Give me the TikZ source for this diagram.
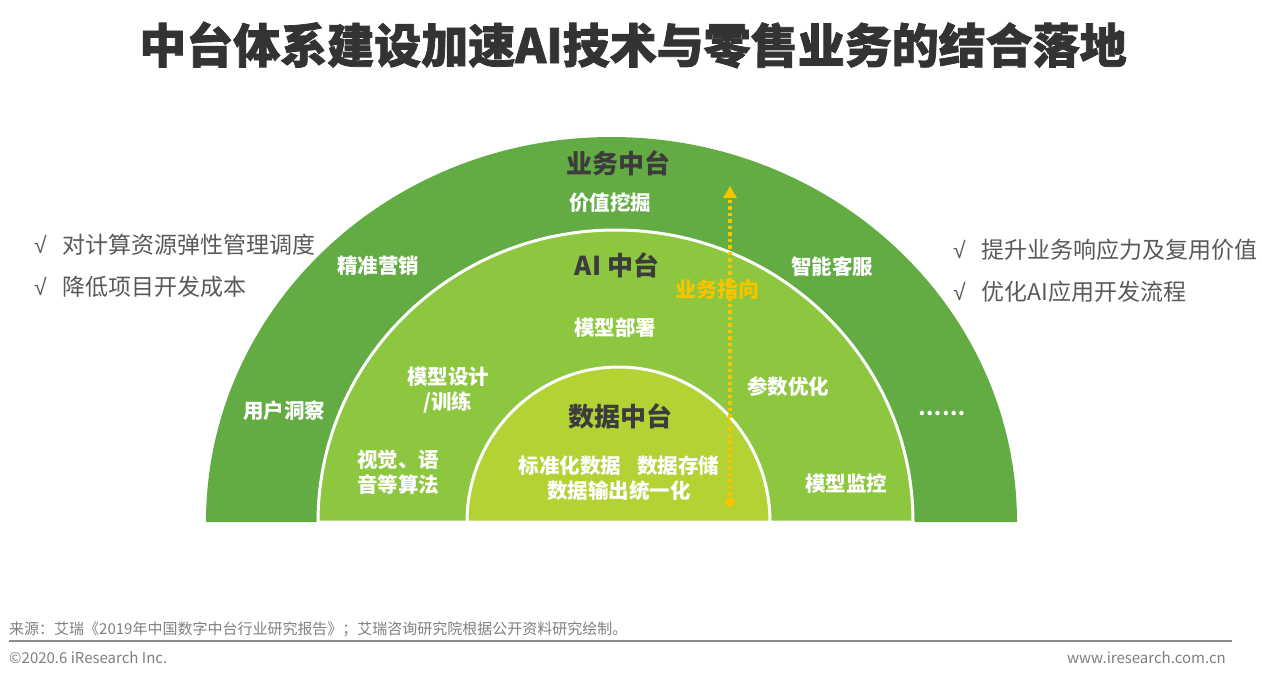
\documentclass[tikz,border=0pt]{standalone}
\usepackage{fontspec}
\usetikzlibrary{arrows.meta}
\setmainfont{Noto Sans CJK SC}
\newfontfamily\cjk{Noto Sans CJK SC}
\newfontfamily\cjkheavy{Noto Sans CJK SC}[BoldFeatures={FakeBold=1.6}]
\newfontfamily\chk{Liberation Sans}
\definecolor{outerg}{HTML}{63AC44}
\definecolor{midg}{HTML}{8DC63F}
\definecolor{innerg}{HTML}{B3D234}
\definecolor{darktxt}{HTML}{3C3C3C}
\definecolor{titletxt}{HTML}{333333}
\definecolor{bullettxt}{HTML}{595959}
\definecolor{ylw}{HTML}{F6C500}
\definecolor{foot}{HTML}{7F7F7F}
\definecolor{footline}{HTML}{8C8C8C}
\tikzset{
  ring/.style={draw=white, line width=3pt},
  layertitle/.style={font=\cjk\bfseries\fontsize{26}{30}\selectfont, text=darktxt, inner sep=0pt},
  wlabel/.style={font=\cjk\bfseries\fontsize{20.5}{25}\selectfont, text=white, inner sep=0pt, align=center},
  bullet/.style={font=\cjk\fontsize{23}{26}\selectfont, text=bullettxt, inner sep=0pt, anchor=west},
  foottxt/.style={font=\cjk\fontsize{15}{17}\selectfont, text=foot, inner sep=0pt},
  arrowline/.style={draw=ylw, line width=3.5pt, dash pattern=on 3.5pt off 3pt, -{Triangle[length=12pt,width=13pt]}},
}
\newcommand{\chkmark}{{\chk √}\hspace{0.7em}}
\begin{document}
\begin{tikzpicture}[x=1pt,y=-1pt]
\useasboundingbox (0,0) rectangle (1262,681);
% title
\node[font=\cjkheavy\bfseries\fontsize{47}{52}\selectfont, text=titletxt, inner sep=0pt] (title) at (633,45) {中台体系建设加速AI技术与零售业务的结合落地};
% rings
\fill[outerg] (206,522) arc[start angle=180,end angle=0,x radius=405.5pt,y radius=385pt] -- cycle;
\draw[ring, fill=midg] (318,522) arc[start angle=180,end angle=0,x radius=297.5pt,y radius=292pt] -- cycle;
\draw[ring, fill=innerg] (467,522) arc[start angle=180,end angle=0,x radius=151.5pt,y radius=155pt] -- cycle;
% layer titles
\node[layertitle] (biz) at (618,163) {业务中台};
\node[layertitle] (ai) at (617,265) {AI 中台};
\node[layertitle] (data) at (620,416) {数据中台};
% white labels
\node[wlabel] (jiazhi) at (610,203) {价值挖掘};
\node[wlabel] (jingzhun) at (378,266) {精准营销};
\node[wlabel] (zhineng) at (832,267) {智能客服};
\node[wlabel] (yonghu) at (284,411) {用户洞察};
\node[wlabel] (dots) at (942,414) {……};
\node[wlabel] (bushu) at (615,328) {模型部署};
\node[wlabel] (sheji) at (448,390) {模型设计\\/训练};
\node[wlabel] (canshu) at (788,387) {参数优化};
\node[wlabel] (shijue) at (398,472) {视觉、语\\音等算法};
\node[wlabel] (jiankong) at (846,484) {模型监控};
\node[wlabel] (std) at (619,478) {标准化数据\hspace{0.8em}数据存储\\数据输出统一化};
% arrow
\coordinate (arrS) at (730,502);
\coordinate (arrE) at (730,186);
\fill[ylw] (arrS) circle[radius=5pt];
\draw[arrowline] (arrS) -- (arrE);
\node[font=\cjk\bfseries\fontsize{21}{25}\selectfont, text=ylw, inner sep=0pt] (dir) at (717,290) {业务指向};
% bullets
\node[bullet] (l1) at (34,245) {\chkmark 对计算资源弹性管理调度};
\node[bullet] (l2) at (34,287) {\chkmark 降低项目开发成本};
\node[bullet] (r1) at (953,250) {\chkmark 提升业务响应力及复用价值};
\node[bullet] (r2) at (953,292) {\chkmark 优化AI应用开发流程};
% footer
\node[foottxt, anchor=west] (src) at (9,629) {来源：艾瑞《2019年中国数字中台行业研究报告》；艾瑞咨询研究院根据公开资料研究绘制。};
\coordinate (fl1) at (9,641);
\coordinate (fl2) at (1232,641);
\draw[footline, line width=1.5pt] (fl1) -- (fl2);
\node[foottxt, anchor=west] (copy) at (9,658) {©2020.6 iResearch Inc.};
\node[foottxt, anchor=east] (web) at (1226,658) {www.iresearch.com.cn};
\end{tikzpicture}
\end{document}
